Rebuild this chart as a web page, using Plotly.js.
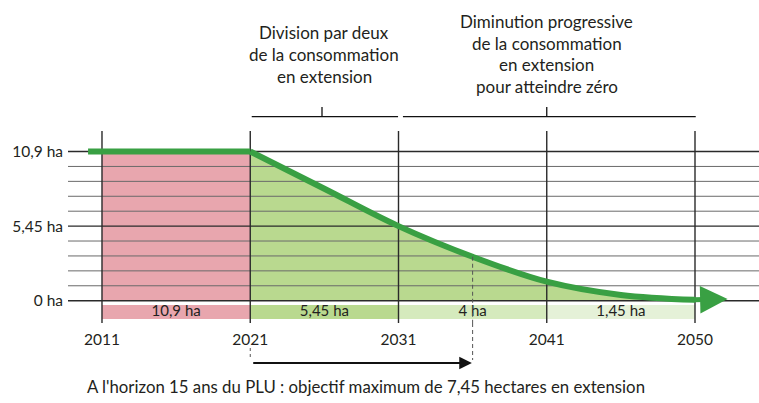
<!DOCTYPE html>
<html>
<head>
<meta charset="utf-8">
<script src="https://cdn.plot.ly/plotly-3.0.1.min.js"></script>
<style>html,body{margin:0;padding:0;background:#fff;}#chart{width:759px;height:403px;}</style>
</head>
<body>
<div id="chart"></div>
<script>
// ---- data ----
const years = ['2011', '2021', '2031', '2041', '2050'];
const yearIdx = [0, 1, 2, 3, 4];
const yTickVals = [0, 5.45, 10.9];
const yTickText = ['0 ha', '5,45 ha', '10,9 ha'];
const maxValue = 10.9;
// flat consumption 2011-2021
const flatIdx = [-0.094, 1];
const flatVal = [10.9, 10.9];
// reduction curve (x = position on time axis, 0 = 2011 ... 4 = 2050)
const curveIdx = [1, 1.5, 2, 2.5, 3, 3.5, 4];
const curveVal = [10.9, 8.18, 5.45, 3.21, 1.39, 0.42, 0.06];
// periods and consumption per period
const periodCenters = [0.5, 1.5, 2.5, 3.5];
const periodValues = [10.9, 5.45, 4, 1.45];
const periodColors = ['#e8a6ae', '#b9d98f', '#d5eabd', '#e5f1d8'];
const horizonIdx = 2.5;      // 2021 + 15 years
const horizonVal = 3.21;
const block1Lines = ['Division par deux', 'de la consommation', 'en extension'];
const block2Lines = ['Diminution progressive', 'de la consommation', 'en extension', 'pour atteindre zéro'];
const footText = "A l'horizon 15 ans du PLU : objectif maximum de 7,45 hectares en extension";

// ---- styles ----
const FONT = 'Lato, "Open Sans", sans-serif';
const TXT = '#231f20';
const GREEN = '#39a043';
const fmt = v => String(v).replace('.', ',') + ' ha';

// grid line helpers
const hMinorX = [], hMinorY = [], hMajorX = [], hMajorY = [];
for (let i = 0; i <= 10; i++) {
  const v = maxValue * i / 10;
  const major = (i === 0 || i === 5 || i === 10);
  const X = major ? hMajorX : hMinorX, Y = major ? hMajorY : hMinorY;
  X.push(-1, 6, null); Y.push(v, v, null);
}
const vX = [], vY = [];
yearIdx.forEach(i => { vX.push(i, i, null); vY.push(-5, 20, null); });

const traces = [
  // bars of periods
  {type: 'bar', x: periodCenters, y: periodValues.map(() => 1.045), base: -1.36, width: 1,
   marker: {color: periodColors, line: {width: 0}}, hoverinfo: 'skip', textposition: 'none'},
  {type: 'scatter', mode: 'text', x: periodCenters, y: periodValues.map(() => -0.86),
   text: periodValues.map(fmt), textfont: {family: FONT, size: 15, color: TXT}, hoverinfo: 'skip'},
  // fills
  {type: 'scatter', mode: 'lines', x: [0, 1], y: [maxValue, maxValue], fill: 'tozeroy',
   fillcolor: '#e8a6ae', line: {width: 0}, hoverinfo: 'skip'},
  {type: 'scatter', mode: 'lines', x: curveIdx, y: curveVal, fill: 'tozeroy',
   fillcolor: '#b9d98f', line: {width: 0, shape: 'spline'}, hoverinfo: 'skip'},
  // grid
  {type: 'scatter', mode: 'lines', x: hMinorX, y: hMinorY, line: {color: '#6a6a6a', width: 1}, hoverinfo: 'skip'},
  {type: 'scatter', mode: 'lines', x: hMajorX, y: hMajorY, line: {color: '#2a2a2a', width: 1.4}, hoverinfo: 'skip'},
  {type: 'scatter', mode: 'lines', x: vX, y: vY, line: {color: '#2a2a2a', width: 1.4}, hoverinfo: 'skip'},
  // green line
  {type: 'scatter', mode: 'lines', x: flatIdx, y: flatVal, line: {color: GREEN, width: 6}, hoverinfo: 'skip'},
  {type: 'scatter', mode: 'lines', x: curveIdx, y: curveVal, line: {color: GREEN, width: 6, shape: 'spline'}, hoverinfo: 'skip'}
];

// paper y from pixel y (plot area spans 131..323)
const py = p => (323 - p) / 192;

const annotations = [];
const b1y = [33, 54.5, 76];
block1Lines.forEach((t, i) => annotations.push({xref: 'x', yref: 'paper', x: 1.5, y: py(b1y[i]), text: t,
  showarrow: false, xanchor: 'center', yanchor: 'middle', font: {family: FONT, size: 17, color: TXT}}));
const b2y = [21.5, 43.5, 64.5, 86];
block2Lines.forEach((t, i) => annotations.push({xref: 'x', yref: 'paper', x: 3, y: py(b2y[i]), text: t,
  showarrow: false, xanchor: 'center', yanchor: 'middle', font: {family: FONT, size: 17, color: TXT}}));
annotations.push({xref: 'paper', yref: 'paper', x: (366 - 68) / 691, y: py(386), text: footText,
  showarrow: false, xanchor: 'center', yanchor: 'middle', font: {family: FONT, size: 16.8, color: TXT}});
// horizon arrow
annotations.push({xref: 'x', yref: 'paper', x: horizonIdx - 0.005, y: py(363), axref: 'x', ayref: 'pixel',
  ax: 1.01, ay: 0, text: '', showarrow: true, arrowhead: 2, arrowsize: 1.4, arrowwidth: 1.8, arrowcolor: '#111'});
// green curve arrow head
annotations.push({xref: 'x', yref: 'y', x: 4.22, y: 0.12, axref: 'x', ayref: 'y',
  ax: 3.98, ay: 0.06, text: '', showarrow: true, arrowhead: 2, arrowsize: 1.1, arrowwidth: 5, arrowcolor: GREEN});

const shapes = [
  // brackets
  {type: 'line', xref: 'x', yref: 'paper', x0: 1.01, x1: 1.997, y0: py(116.7), y1: py(116.7), line: {color: '#111', width: 1.3}},
  {type: 'line', xref: 'x', yref: 'paper', x0: 1.484, x1: 1.484, y0: py(107), y1: py(116.7), line: {color: '#111', width: 1.3}},
  {type: 'line', xref: 'x', yref: 'paper', x0: 2.03, x1: 4.005, y0: py(116.7), y1: py(116.7), line: {color: '#111', width: 1.3}},
  {type: 'line', xref: 'x', yref: 'paper', x0: 3.0, x1: 3.0, y0: py(107), y1: py(116.7), line: {color: '#111', width: 1.3}},
  // dashed guides
  {type: 'line', xref: 'x', yref: 'paper', x0: 1, x1: 1, y0: py(348), y1: py(360), line: {color: '#555', width: 1, dash: '3px,3px'}},
  {type: 'line', xref: 'x', yref: 'y', x0: horizonIdx, x1: horizonIdx, y0: horizonVal, y1: -1.7, line: {color: '#555', width: 1, dash: '4px,3px'}},
  {type: 'line', xref: 'x', yref: 'paper', x0: horizonIdx, x1: horizonIdx, y0: 0, y1: py(360), line: {color: '#555', width: 1, dash: '4px,3px'}}
];

const layout = {
  width: 759, height: 403,
  margin: {l: 68, r: 0, t: 131, b: 80},
  paper_bgcolor: '#fff', plot_bgcolor: '#fff',
  showlegend: false,
  bargap: 0,
  xaxis: {range: [-0.2293, 4.4317], tickvals: yearIdx, ticktext: years, showgrid: false, zeroline: false,
    showline: false, ticks: '', ticklabelstandoff: 5, tickfont: {family: FONT, size: 15.5, color: TXT}, fixedrange: true},
  yaxis: {range: [-1.63, 12.40], tickvals: yTickVals, ticktext: yTickText, showgrid: false, zeroline: false,
    showline: false, ticks: '', ticklabelstandoff: 4, tickfont: {family: FONT, size: 15.5, color: TXT}, fixedrange: true},
  annotations: annotations,
  shapes: shapes
};

Plotly.newPlot('chart', traces, layout, {displayModeBar: false, staticPlot: true});
</script>
</body>
</html>
